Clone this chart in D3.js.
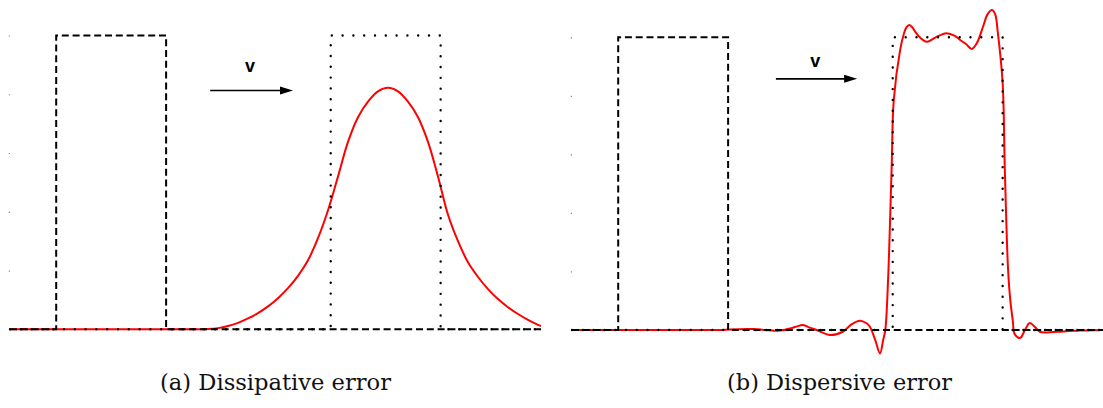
<!DOCTYPE html>
<html>
<head>
<meta charset="utf-8">
<script src="https://cdn.jsdelivr.net/npm/d3@7"></script>
<style>
  html, body { margin: 0; padding: 0; background: #fff; }
  svg { display: block; }
  .caption { font-family: "DejaVu Serif", serif; }
  .vlabel { font-family: "Liberation Sans", Arial, sans-serif; }
</style>
</head>
<body>
<svg id="chart" width="1103" height="408"></svg>
<script>
// ---- Data ----
const yTicks = [0.2, 0.4, 0.6, 0.8, 1.0];
const initialBox = [[0, 0], [0.087, 0], [0.087, 1], [0.294, 1], [0.294, 0], [1, 0]];
const exactBox   = [[0, 0], [0.604, 0], [0.604, 1], [0.811, 1], [0.811, 0], [1, 0]];

// (a) dissipative numerical solution
const dissipativeX = [0, 0.2637, 0.3540, 0.3729, 0.3917, 0.4105, 0.4294, 0.4482, 0.4670, 0.4859, 0.5047, 0.5235, 0.5424,
  0.5612, 0.5800, 0.5989, 0.6177, 0.6365, 0.6554, 0.6742, 0.6930, 0.7119, 0.7307, 0.7495, 0.7684, 0.7872, 0.8060, 0.8249,
  0.8437, 0.8625, 0.8814, 0.9002, 0.9190, 0.9379, 0.9567, 0.9755, 0.9944, 1.0];
const dissipativeU = [0, 0, 0, 0.001, 0.004, 0.011, 0.022, 0.037, 0.055, 0.078, 0.106, 0.140, 0.182,
  0.235, 0.310, 0.405, 0.520, 0.638, 0.722, 0.775, 0.810, 0.822, 0.810, 0.775, 0.722, 0.638, 0.520, 0.390,
  0.300, 0.228, 0.178, 0.137, 0.103, 0.075, 0.052, 0.032, 0.015, 0.011];

// (b) dispersive numerical solution
const dispersiveX = [0, 0.1, 0.241, 0.279, 0.298, 0.341, 0.392, 0.420, 0.435, 0.448, 0.461, 0.486, 0.510, 0.527, 0.542, 0.554, 0.561,
  0.571, 0.580, 0.586, 0.590, 0.595, 0.602, 0.606, 0.618, 0.625, 0.630, 0.635, 0.640, 0.646, 0.655, 0.668, 0.685, 0.705, 0.721, 0.731, 0.742,
  0.753, 0.763, 0.774, 0.783, 0.791, 0.797, 0.802, 0.811, 0.815, 0.821, 0.825, 0.830, 0.834, 0.844, 0.853, 0.862, 0.872, 0.881,
  0.900, 0.925, 0.957, 1.0];
const dispersiveU = [0, 0, 0, 0, 0.002, 0.003, -0.002, 0.010, 0.017, 0.008, 0, -0.017, -0.006, 0.020, 0.032, 0.024, 0.011,
  -0.034, -0.080, -0.034, 0, 0.160, 0.557, 0.786, 0.957, 1.012, 1.035, 1.042, 1.036, 1.020, 1.000, 0.985, 1.000, 1.014, 1.005, 0.991, 0.977,
  0.960, 0.982, 1.036, 1.080, 1.093, 1.078, 1.015, 0.844, 0.557, 0.215, 0.110, 0.034, -0.015, -0.027, 0.000, 0.024, 0.010, -0.006,
  -0.008, -0.005, -0.002, 0];

const captions = ["(a) Dissipative error", "(b) Dispersive error"];
const captionWidths = [231, 225];
const arrowLabel = "v";
const arrowX = [[0.377, 0.533], [0.384, 0.537]];
const arrowY = [0.813, 0.858];
const labelPos = [[0.452, 0.898], [0.458, 0.919]];

// ---- Layout ----
const panels = [
  { xr: [10, 541], yr: [329.3, 35.5], capX: 275.5, sx: dissipativeX, su: dissipativeU },
  { xr: [572, 1103], yr: [330, 37.3], capX: 839.5, sx: dispersiveX, su: dispersiveU }
];

const svg = d3.select("#chart");

panels.forEach((p, i) => {
  const x = d3.scaleLinear().domain([0, 1]).range(p.xr);
  const y = d3.scaleLinear().domain([0, 1]).range(p.yr);
  const g = svg.append("g");

  // y ticks (tiny marks)
  const ax = g.append("g")
    .attr("transform", `translate(${p.xr[0]},0)`)
    .call(d3.axisLeft(y).tickValues(yTicks).tickSize(1.2).tickFormat(""));
  ax.select(".domain").remove();
  ax.selectAll(".tick line").attr("stroke", "#888").attr("stroke-width", 1.2);

  const line = d3.line().x(d => x(d[0])).y(d => y(d[1]));

  // numerical solution (red)
  const num = p.sx.map((v, k) => [v, p.su[k]]);
  g.append("path")
    .datum(num)
    .attr("d", d3.line().x(d => x(d[0])).y(d => y(d[1])).curve(d3.curveCatmullRom.alpha(0.5)))
    .attr("fill", "none")
    .attr("stroke", "#ff0000")
    .attr("stroke-width", 2);

  // initial condition (dashed)
  g.append("path")
    .datum(initialBox)
    .attr("d", line)
    .attr("fill", "none")
    .attr("stroke", "#000")
    .attr("stroke-width", 2)
    .attr("stroke-dasharray", "7,3.8");

  // exact solution (dotted)
  g.append("path")
    .datum(exactBox)
    .attr("d", line)
    .attr("fill", "none")
    .attr("stroke", "#000")
    .attr("stroke-width", 2.4)
    .attr("stroke-linecap", "round")
    .attr("stroke-dasharray", "0,10.8");

  // velocity arrow
  const ax0 = x(arrowX[i][0]), ax1 = x(arrowX[i][1]), ay = y(arrowY[i]);
  g.append("line")
    .attr("x1", ax0).attr("x2", ax1 - 8).attr("y1", ay).attr("y2", ay)
    .attr("stroke", "#000").attr("stroke-width", 1.6);
  g.append("path")
    .attr("d", `M${ax1},${ay} L${ax1 - 13},${ay - 4} L${ax1 - 13},${ay + 4} Z`)
    .attr("fill", "#000");
  g.append("text")
    .attr("class", "vlabel")
    .attr("x", x(labelPos[i][0]))
    .attr("y", y(labelPos[i][1]))
    .attr("dy", "0.35em")
    .attr("text-anchor", "middle")
    .attr("font-weight", "bold")
    .attr("font-size", 18)
    .text(arrowLabel);

  // caption
  g.append("text")
    .attr("class", "caption")
    .attr("x", p.capX)
    .attr("y", 390)
    .attr("text-anchor", "middle")
    .attr("font-size", 22)
    .attr("textLength", captionWidths[i])
    .attr("lengthAdjust", "spacingAndGlyphs")
    .attr("fill", "#111")
    .text(captions[i]);
});
</script>
</body>
</html>
